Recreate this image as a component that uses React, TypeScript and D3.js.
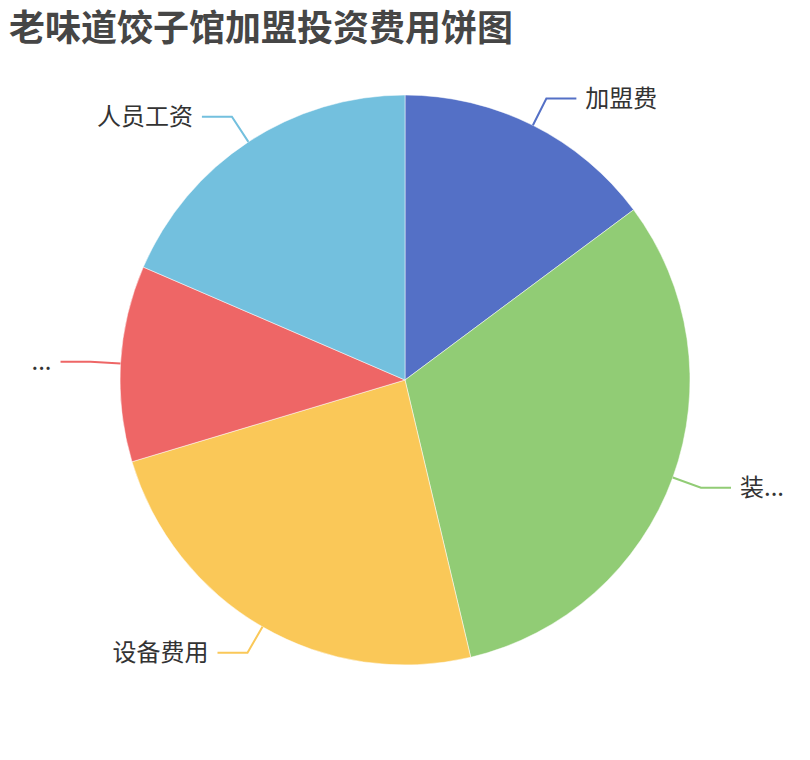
import React, { useRef, useEffect } from 'react';
import * as d3 from 'd3';

// Categories (full names) and what the chart actually shows after truncation
const categories = ['加盟费', '装修费用', '设备费用', '房租费用', '人员工资'];
const shownLabels = ['加盟费', '装...', '设备费用', '...', '人员工资'];
const values = [8, 17, 13, 6, 10];
const colors = ['#5470c6', '#91cc75', '#fac858', '#ee6666', '#73c0de'];

const WIDTH = 810;
const HEIGHT = 760;

const App: React.FC = () => {
  const svgRef = useRef<SVGSVGElement>(null);

  useEffect(() => {
    if (!svgRef.current) return;
    const svg = d3.select(svgRef.current);
    svg.selectAll('*').remove();

    const cx = 405;
    const cy = 380;
    const radius = 285;
    const len1 = 30;
    const len2 = 30;
    const font = '"Noto Sans CJK SC", "Noto Sans", sans-serif';

    const data = categories.map((name, i) => ({ name, label: shownLabels[i], value: values[i], color: colors[i] }));

    const pie = d3.pie<typeof data[0]>()
      .sort(null)
      .value(d => d.value);
    const arcs = pie(data);

    const arc = d3.arc<d3.PieArcDatum<typeof data[0]>>()
      .innerRadius(0)
      .outerRadius(radius);

    const g = svg.append('g').attr('transform', `translate(${cx},${cy})`);

    g.selectAll('path.slice')
      .data(arcs)
      .enter()
      .append('path')
      .attr('class', 'slice')
      .attr('d', arc)
      .attr('fill', d => d.data.color)
      .attr('stroke', '#fff')
      .attr('stroke-width', 0.5);

    // Label lines + labels
    arcs.forEach(a => {
      const mid = (a.startAngle + a.endAngle) / 2;
      const sx = Math.sin(mid);
      const sy = -Math.cos(mid);
      const p0 = [sx * radius, sy * radius];
      const p1 = [sx * (radius + len1), sy * (radius + len1)];
      const right = sx >= 0;
      const p2 = [p1[0] + (right ? len2 : -len2), p1[1]];

      g.append('polyline')
        .attr('points', [p0, p1, p2].map(p => p.join(',')).join(' '))
        .attr('fill', 'none')
        .attr('stroke', a.data.color)
        .attr('stroke-width', 2);

      g.append('text')
        .attr('x', p2[0] + (right ? 9 : -9))
        .attr('y', p2[1] - 2)
        .attr('text-anchor', right ? 'start' : 'end')
        .attr('dominant-baseline', 'central')
        .attr('font-family', font)
        .attr('font-size', '24px')
        .attr('fill', '#333')
        .text(a.data.label);
    });

    // Title
    svg.append('text')
      .attr('x', 9)
      .attr('y', 25)
      .attr('dominant-baseline', 'central')
      .attr('font-family', font)
      .attr('font-size', '36px')
      .attr('font-weight', 700)
      .attr('fill', '#464646')
      .text('老味道饺子馆加盟投资费用饼图');
  }, []);

  return (
    <svg
      ref={svgRef}
      width={WIDTH}
      height={HEIGHT}
      style={{ position: 'absolute', left: 0, top: 0, background: '#fff' }}
    />
  );
};

export default App;
